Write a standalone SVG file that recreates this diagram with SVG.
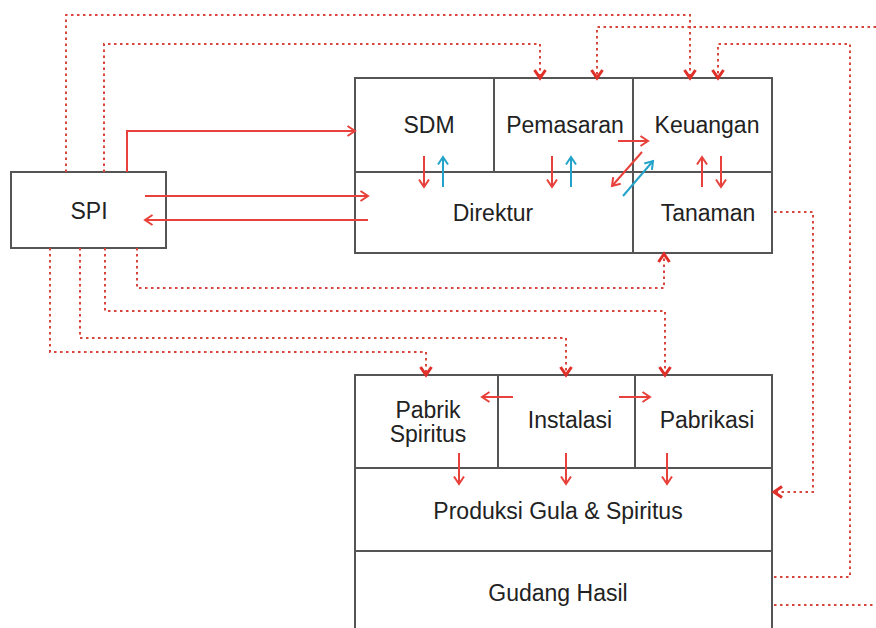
<svg xmlns="http://www.w3.org/2000/svg" width="876" height="628" viewBox="0 0 876 628">
<style>
.box{fill:#fff;stroke:#555;stroke-width:2}
.div{fill:none;stroke:#555;stroke-width:2}
.t{font-family:"Liberation Sans",Arial,sans-serif;font-size:23px;fill:#222;text-anchor:middle}
.dot{fill:none;stroke:#d9443c;stroke-width:2;stroke-dasharray:2.5 3.5;marker-end:url(#vd)}
.dotn{fill:none;stroke:#d9443c;stroke-width:2;stroke-dasharray:2.5 3.5}
.r{fill:none;stroke:#e8403a;stroke-width:2;marker-end:url(#ar)}
.b{fill:none;stroke:#23a3c9;stroke-width:2;marker-end:url(#ab)}
</style>
<defs>
<marker id="vd" markerUnits="userSpaceOnUse" markerWidth="14" markerHeight="14" refX="9" refY="6" orient="auto" overflow="visible">
<path d="M1,0.5 L9,6 L1,11.5" fill="none" stroke="#e0302a" stroke-width="3"/>
</marker>
<marker id="ar" markerUnits="userSpaceOnUse" markerWidth="12" markerHeight="12" refX="8" refY="5" orient="auto" overflow="visible">
<path d="M0.5,0 L8,5 L0.5,10" fill="none" stroke="#e8403a" stroke-width="2"/>
</marker>
<marker id="ab" markerUnits="userSpaceOnUse" markerWidth="12" markerHeight="12" refX="8" refY="5" orient="auto" overflow="visible">
<path d="M0.5,0 L8,5 L0.5,10" fill="none" stroke="#23a3c9" stroke-width="2"/>
</marker>
</defs>

<g id="top-box">
<rect class="box" x="355" y="78" width="417" height="175"/>
<path class="div" d="M355,172 H772 M494,78 V172 M633,78 V253"/>
</g>
<g id="SDM"><text class="t" x="429" y="133">SDM</text></g>
<g id="Pemasaran"><text class="t" x="565" y="133">Pemasaran</text></g>
<g id="Keuangan"><text class="t" x="707" y="133">Keuangan</text></g>
<g id="Direktur"><text class="t" x="493" y="221">Direktur</text></g>
<g id="Tanaman"><text class="t" x="708" y="221">Tanaman</text></g>

<g id="SPI">
<rect class="box" x="11" y="172" width="155" height="76"/>
<text class="t" x="89" y="219">SPI</text>
</g>

<g id="bottom-box">
<rect class="box" x="355" y="375" width="417" height="270"/>
<path class="div" d="M355,468 H772 M355,551 H772 M498,375 V468 M635,375 V468"/>
</g>
<g id="PabrikSpiritus"><text class="t" x="428" y="418">Pabrik</text><text class="t" x="428" y="442">Spiritus</text></g>
<g id="Instalasi"><text class="t" x="570" y="428">Instalasi</text></g>
<g id="Pabrikasi"><text class="t" x="707" y="428">Pabrikasi</text></g>
<g id="Produksi"><text class="t" x="558" y="519">Produksi Gula &amp; Spiritus</text></g>
<g id="GudangHasil"><text class="t" x="558" y="601">Gudang Hasil</text></g>

<g id="connectors">
<path class="dot" d="M66,172 V15 H690 V78"/>
<path class="dot" d="M104,172 V44 H540 V78"/>
<path class="dot" d="M876,27 H597 V78"/>
<path class="dot" d="M774,577 H850 V44 H718 V78"/>
<path class="dot" d="M774,212 H813 V492 H774"/>
<path class="dotn" d="M774,605 H876"/>
<path class="dot" d="M137,248 V288 H664 V254"/>
<path class="dot" d="M105,248 V311 H665 V375"/>
<path class="dot" d="M80,248 V338 H566 V375"/>
<path class="dot" d="M50,248 V352 H426 V375"/>

<path class="r" d="M127,172 V131 H355"/>
<path class="r" d="M145,196 H368"/>
<path class="r" d="M368,220 H145"/>
<path class="r" d="M424,156 V187"/>
<path class="b" d="M443,187 V157"/>
<path class="r" d="M552,156 V187"/>
<path class="b" d="M571,187 V157"/>
<path class="r" d="M702,187 V157"/>
<path class="r" d="M721,156 V187"/>
<path class="r" d="M618,141 H648"/>
<path class="r" d="M642,152 L612,186"/>
<path class="b" d="M623,196 L653,161"/>
<path class="r" d="M513,397 H482"/>
<path class="r" d="M619,397 H650"/>
<path class="r" d="M459,453 V484"/>
<path class="r" d="M566,453 V484"/>
<path class="r" d="M667,453 V484"/>
</g>
</svg>
